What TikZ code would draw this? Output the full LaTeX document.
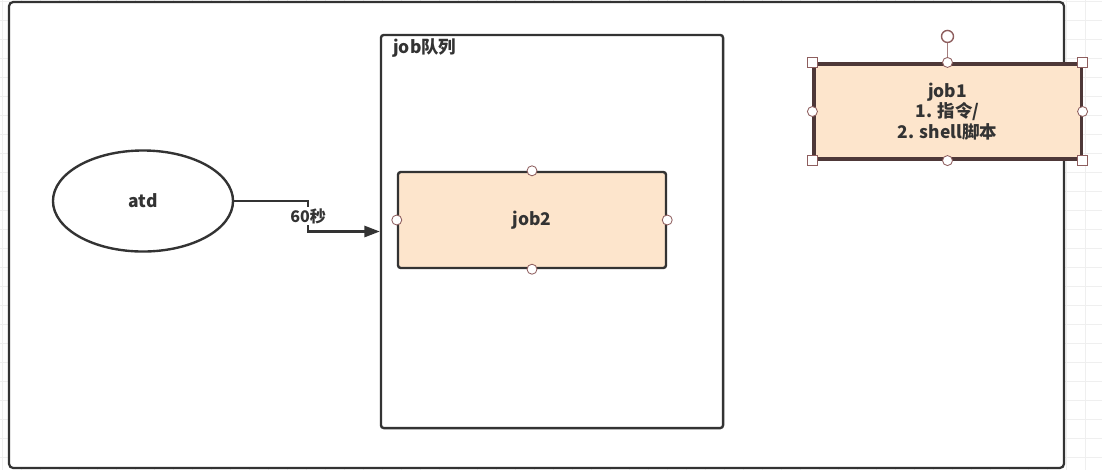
\documentclass[tikz,border=0pt]{standalone}
\usepackage{fontspec}
\setmainfont{Noto Sans CJK SC}
\usepackage{xcolor}
\usetikzlibrary{shapes,arrows.meta,positioning,calc}
\definecolor{peach}{HTML}{FDE5CC}
\definecolor{ink}{HTML}{333333}
\definecolor{frame}{HTML}{4E3838}
\definecolor{hdl}{HTML}{8E5E5E}
\definecolor{gridline}{HTML}{EFEFEF}

\begin{document}
\begin{tikzpicture}[
    x=0.025cm, y=-0.025cm,
    lbl/.style={font=\fontsize{12.4}{14.7}\selectfont\bfseries, text=ink, align=center},
    box/.style={rectangle, draw=ink, line width=1.7pt, lbl},
    job/.style={box, fill=peach, rounded corners=2pt, minimum width=6.7cm, minimum height=2.4cm},
    handle/.style={circle, draw=hdl, fill=white, line width=0.6pt, inner sep=0pt, minimum size=0.25cm},
    corner/.style={handle, rectangle},
    arrow/.style={-{Triangle[length=11pt,width=8pt]}, draw=ink, line width=1.6pt}
]
    \useasboundingbox (0,0) rectangle (1102,470);

    % ============ Canvas grid ============
    \foreach \gx in {2,21,...,1102} \draw[gridline, line width=0.5pt] (\gx,0) -- (\gx,470);
    \foreach \gy in {1,20,...,470} \draw[gridline, line width=0.5pt] (0,\gy) -- (1102,\gy);

    % ============ Outer boundary ============
    \draw[ink, line width=1.6pt, rounded corners=3pt, fill=white] (9,2) rectangle (1064,468);

    % ============ job queue ============
    \node[box, rounded corners=2pt, minimum width=8.55cm, minimum height=9.825cm] (queue) at (552,231.5) {};
    \node[lbl, anchor=north west, inner sep=0pt] (qlabel) at (393,38) {job队列};

    % ============ atd ============
    \node[box, ellipse, minimum width=4.5cm, minimum height=2.525cm] (atd) at (143,201) {atd};

    % ============ Jobs ============
    \node[job] (job2) at (532,220) {job2};
    \node[job, rounded corners=0pt, draw=frame, line width=2.2pt, minimum width=6.675cm, minimum height=2.375cm] (job1) at (947.5,111.5) {job1\\1. 指令/\\2. shell脚本};

    % ============ Connections ============
    \draw[arrow] (atd.east) -- ++(74,0) |- (queue.west)
        node[pos=0.25, lbl, font=\fontsize{11.4}{13}\selectfont\bfseries, fill=white, inner sep=1pt] (delay) {60秒};

    % ============ Selection handles ============
    \foreach \a in {north,south,east,west}
        \node[handle] (h2\a) at (job2.\a) {};
    \draw[hdl!80, line width=1pt] (job1.north) -- ++(0,-26) coordinate (rot);
    \node[handle, minimum size=0.3cm, line width=1pt] (hrot) at (rot) {};
    \foreach \a in {north,south,east,west}
        \node[handle] (h1\a) at (job1.\a) {};
    \foreach \a in {north east,north west,south east,south west}
        \node[corner] (h1\a) at (job1.\a) {};

\end{tikzpicture}
\end{document}
